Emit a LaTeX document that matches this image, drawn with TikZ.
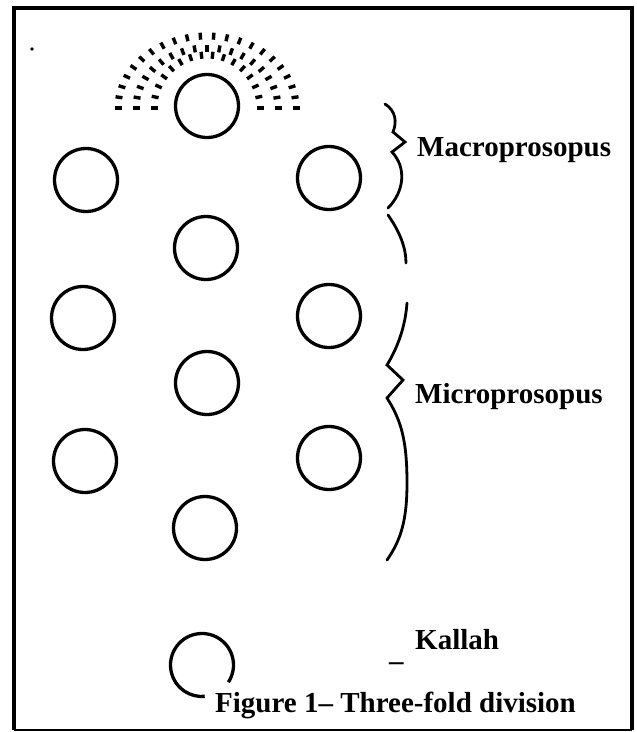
\documentclass[tikz,border=0pt]{standalone}
\usepackage{fontspec}
\setmainfont{Liberation Serif}
\begin{document}
\begin{tikzpicture}[x=1pt,y=-1pt,
  ring/.style={circle,draw,line width=3.3pt,minimum size=63pt,inner sep=0pt},
  ringline/.style={line width=3.3pt},
  lab/.style={font=\fontsize{29}{31}\selectfont\bfseries,anchor=base west,inner sep=0pt},
  bracestroke/.style={line width=2.8pt,line cap=round,line join=miter},
  tick/.style={line width=3.4pt},
  framestroke/.style={line width=4pt}]
\useasboundingbox (0,0) rectangle (637,732);
% frame
\draw[framestroke] (14,730) -- (14,8) -- (632,8) -- (632,730);
\draw[line width=2pt] (14,730) -- (632,730);
\fill (32,49) circle (1.8);
% circles
\node[ring] (c1) at (207,106) {};
\node[ring] (c2) at (86,180) {};
\node[ring] (c3) at (329,178) {};
\node[ring] (c4) at (206,248) {};
\node[ring] (c5) at (83,318) {};
\node[ring] (c6) at (329,316) {};
\node[ring] (c7) at (207,383) {};
\node[ring] (c8) at (85,461) {};
\node[ring] (c9) at (329,458) {};
\node[ring] (c10) at (205,528) {};
\coordinate (k) at (202,665);
\draw[ringline] (k) ++(33:31.5) arc[start angle=33,end angle=-275,radius=31.5];
% radiating dashed arcs
\foreach \a/\b/\n in {89/72/21, 71/60/18, 53/53/15}{
  \foreach \i in {0,...,\n}{
    \pgfmathsetmacro\t{180*\i/\n}
    \draw[tick] ({207+(\a-3.5)*cos(\t)},{108-(\b-3.5)*sin(\t)}) -- ({207+(\a+3.5)*cos(\t)},{108-(\b+3.5)*sin(\t)});
  }
}
% braces
\draw[bracestroke] (385,104) .. controls (396,111) and (397,122) .. (393,132) -- (405,142) -- (392,152) .. controls (407,168) and (404,192) .. (388,208);
\draw[bracestroke] (388,215) .. controls (400,232) and (406,248) .. (406,263);
\draw[bracestroke] (407,303) .. controls (405,330) and (396,350) .. (387,365) -- (403,380) -- (387,398) .. controls (401,420) and (407,440) .. (407,483) .. controls (407,520) and (401,540) .. (387,560);
% labels
\node[lab] (macro) at (417,156) {Macroprosopus};
\node[lab] (micro) at (415,403) {Microprosopus};
\node[lab] (kallah) at (415,649) {Kallah};
\node[lab] (dash) at (389,670) {–};
\node[lab] (cap) at (215,712) {Figure 1– Three-fold division};
\end{tikzpicture}
\end{document}
